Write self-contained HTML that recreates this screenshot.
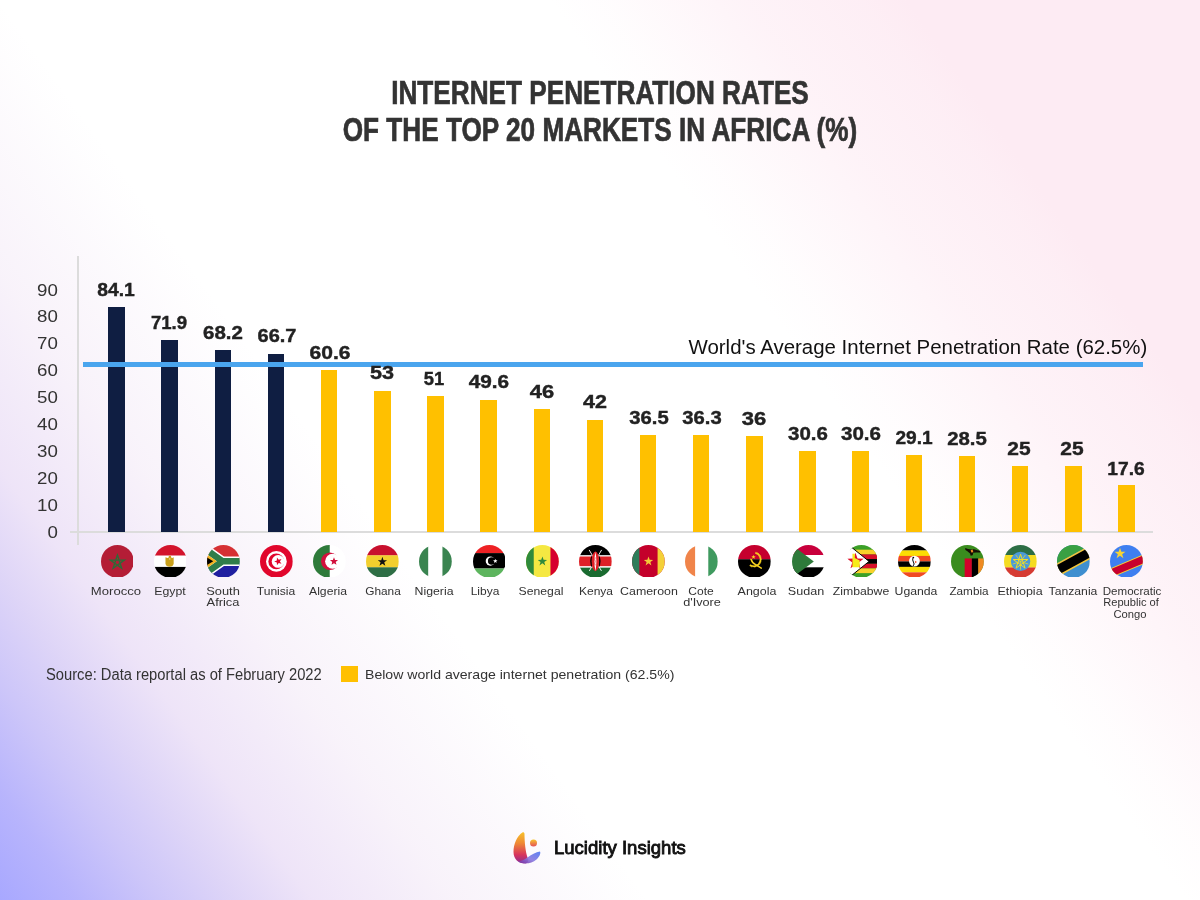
<!DOCTYPE html>
<html><head><meta charset="utf-8"><style>
html,body{margin:0;padding:0;}
body{width:1200px;height:900px;position:relative;overflow:hidden;font-family:"Liberation Sans",sans-serif;
background:
 linear-gradient(54.16deg, rgba(168,168,255,1) 0.00%, rgba(172,168,252,0.86) 4.22%, rgba(178,168,246,0.66) 8.43%, rgba(186,167,239,0.48) 12.65%, rgba(200,168,232,0.31) 16.86%, rgba(208,168,222,0.14) 24.59%, rgba(210,168,220,0.02) 33.37%, rgba(210,168,220,0) 35.13%),
 linear-gradient(234.75deg, rgba(253,235,243,1) 0.00%, rgba(253,235,243,1) 15.93%, rgba(253,235,243,0.85) 18.41%, rgba(253,235,243,0.6) 24.79%, rgba(253,235,243,0.12) 32.58%, rgba(253,235,243,0) 35.41%),
 #fff;}
.abs{position:absolute;}
.title{position:absolute;left:0;width:1200px;text-align:center;color:#333;font-weight:bold;font-size:32.5px;line-height:36px;white-space:nowrap;transform:scaleX(0.805);transform-origin:600px 0;-webkit-text-stroke:0.7px #333;}
.bar{position:absolute;width:16.5px;}
.val{position:absolute;width:80px;text-align:center;font-weight:bold;font-size:18px;line-height:27px;color:#222;-webkit-text-stroke:0.4px #222;}
.yl{position:absolute;left:0;width:57.8px;text-align:right;font-size:17px;line-height:26px;color:#333;transform:scaleX(1.1);transform-origin:57.8px 0;}
.flag{position:absolute;}
.nm{position:absolute;width:100px;text-align:center;font-size:11.5px;line-height:11px;color:#333;white-space:nowrap;}
</style></head><body>
<div id="wrap" style="position:absolute;left:0;top:0;width:1200px;height:900px;will-change:transform">
<div class="title" style="top:74.5px">INTERNET PENETRATION RATES</div>
<div class="title" style="top:111.5px">OF THE TOP 20 MARKETS IN AFRICA (%)</div>
<div class="abs" style="left:77.3px;top:256px;width:1.6px;height:289px;background:#dcdcdc"></div>
<div class="abs" style="left:70px;top:531.4px;width:1083px;height:1.6px;background:#dcdcdc"></div>
<div class="yl" style="top:519.60px">0</div><div class="yl" style="top:492.70px">10</div><div class="yl" style="top:465.80px">20</div><div class="yl" style="top:438.90px">30</div><div class="yl" style="top:412.00px">40</div><div class="yl" style="top:385.10px">50</div><div class="yl" style="top:358.20px">60</div><div class="yl" style="top:331.30px">70</div><div class="yl" style="top:304.40px">80</div><div class="yl" style="top:277.50px">90</div>
<div class="bar" style="left:108.30px;top:307.43px;height:224.57px;background:#0f1e42"></div><div class="bar" style="left:161.45px;top:340.07px;height:191.93px;background:#0f1e42"></div><div class="bar" style="left:214.60px;top:349.97px;height:182.03px;background:#0f1e42"></div><div class="bar" style="left:267.75px;top:353.98px;height:178.02px;background:#0f1e42"></div><div class="bar" style="left:320.90px;top:370.30px;height:161.70px;background:#ffc000"></div><div class="bar" style="left:374.05px;top:390.63px;height:141.37px;background:#ffc000"></div><div class="bar" style="left:427.20px;top:395.98px;height:136.02px;background:#ffc000"></div><div class="bar" style="left:480.35px;top:399.73px;height:132.27px;background:#ffc000"></div><div class="bar" style="left:533.50px;top:409.36px;height:122.64px;background:#ffc000"></div><div class="bar" style="left:586.65px;top:420.06px;height:111.94px;background:#ffc000"></div><div class="bar" style="left:639.80px;top:434.78px;height:97.22px;background:#ffc000"></div><div class="bar" style="left:692.95px;top:435.31px;height:96.69px;background:#ffc000"></div><div class="bar" style="left:746.10px;top:436.12px;height:95.88px;background:#ffc000"></div><div class="bar" style="left:799.25px;top:450.56px;height:81.44px;background:#ffc000"></div><div class="bar" style="left:852.40px;top:450.56px;height:81.44px;background:#ffc000"></div><div class="bar" style="left:905.55px;top:454.58px;height:77.42px;background:#ffc000"></div><div class="bar" style="left:958.70px;top:456.18px;height:75.82px;background:#ffc000"></div><div class="bar" style="left:1011.85px;top:465.54px;height:66.46px;background:#ffc000"></div><div class="bar" style="left:1065.00px;top:465.54px;height:66.46px;background:#ffc000"></div><div class="bar" style="left:1118.15px;top:485.34px;height:46.66px;background:#ffc000"></div>
<div class="abs" style="left:83px;top:362px;width:1060px;height:4.8px;background:#4aa5ee"></div>
<div class="abs" style="left:688.5px;top:335px;font-size:20.45px;line-height:24px;color:#111;white-space:nowrap">World's Average Internet Penetration Rate (62.5%)</div>
<div class="val" style="left:76.20px;top:276.97px;transform:scaleX(1.0723)">84.1</div><div class="val" style="left:129.35px;top:309.69px;transform:scaleX(1.0312)">71.9</div><div class="val" style="left:183.30px;top:319.64px;transform:scaleX(1.1366)">68.2</div><div class="val" style="left:237.00px;top:323.38px;transform:scaleX(1.1100)">66.7</div><div class="val" style="left:289.65px;top:339.79px;transform:scaleX(1.1688)">60.6</div><div class="val" style="left:342.10px;top:360.33px;transform:scaleX(1.1988)">53</div><div class="val" style="left:394.30px;top:366.21px;transform:scaleX(1.0201)">51</div><div class="val" style="left:448.90px;top:369.33px;transform:scaleX(1.1511)">49.6</div><div class="val" style="left:501.75px;top:379.36px;transform:scaleX(1.2155)">46</div><div class="val" style="left:554.50px;top:389.47px;transform:scaleX(1.1944)">42</div><div class="val" style="left:608.90px;top:404.77px;transform:scaleX(1.1244)">36.5</div><div class="val" style="left:661.75px;top:405.35px;transform:scaleX(1.1244)">36.3</div><div class="val" style="left:713.75px;top:405.76px;transform:scaleX(1.2210)">36</div><div class="val" style="left:767.75px;top:420.99px;transform:scaleX(1.1366)">30.6</div><div class="val" style="left:821.10px;top:420.99px;transform:scaleX(1.1422)">30.6</div><div class="val" style="left:873.95px;top:425.22px;transform:scaleX(1.0601)">29.1</div><div class="val" style="left:927.00px;top:425.94px;transform:scaleX(1.1300)">28.5</div><div class="val" style="left:978.80px;top:436.05px;transform:scaleX(1.1633)">25</div><div class="val" style="left:1032.25px;top:436.05px;transform:scaleX(1.1633)">25</div><div class="val" style="left:1086.10px;top:455.76px;transform:scaleX(1.0678)">17.6</div>
<svg class="flag" style="left:100.55px;top:544.6px" viewBox="0 0 100 100" width="32.8" height="32.8"><defs><clipPath id="c0"><circle cx="50" cy="50" r="50"/></clipPath></defs><g clip-path="url(#c0)"><rect width="100" height="100" fill="#b41d36"/>
<polygon points="50.00,30.50 63.23,71.20 28.60,46.05 71.40,46.05 36.77,71.20" fill="none" stroke="#2b6d37" stroke-width="4" stroke-linejoin="miter" stroke-miterlimit="10"/></g></svg><svg class="flag" style="left:153.70px;top:544.6px" viewBox="0 0 100 100" width="32.8" height="32.8"><defs><clipPath id="c1"><circle cx="50" cy="50" r="50"/></clipPath></defs><g clip-path="url(#c1)"><rect width="100" height="33" fill="#d3132c"/><rect y="32.3" width="100" height="35" fill="#fff"/><rect y="66.8" width="100" height="34" fill="#000"/>
<path d="M35 37 L41 40 L45 38 L45 33 L52 33 L52 38 L56 40 L60 37 L60 57 Q58 66 47.5 66 Q37 66 35 57 Z" fill="#c9a01c"/><rect x="46" y="40" width="4" height="5" fill="#e8d27a"/></g></svg><svg class="flag" style="left:206.85px;top:544.6px" viewBox="0 0 100 100" width="32.8" height="32.8"><defs><clipPath id="c2"><circle cx="50" cy="50" r="50"/></clipPath></defs><g clip-path="url(#c2)"><rect width="100" height="50" fill="#d63034"/><rect y="50" width="100" height="50" fill="#1f1fa0"/>
<path d="M-20 1.5 L47 49.5 L-20 97.5 M47 49.5 L110 49.5" fill="none" stroke="#fff" stroke-width="29"/>
<path d="M-20 1.5 L47 49.5 L-20 97.5 M47 49.5 L110 49.5" fill="none" stroke="#2f7d4a" stroke-width="20"/>
<polygon points="-2,27.5 30,49.5 -2,71.5" fill="#f3b321"/><polygon points="-2,36.5 19,49.5 -2,62.5" fill="#000"/></g></svg><svg class="flag" style="left:260.00px;top:544.6px" viewBox="0 0 100 100" width="32.8" height="32.8"><defs><clipPath id="c3"><circle cx="50" cy="50" r="50"/></clipPath></defs><g clip-path="url(#c3)"><rect width="100" height="100" fill="#e1062c"/><circle cx="50" cy="50" r="31.6" fill="#fff"/>
<circle cx="49.5" cy="50" r="24" fill="#e1062c"/><circle cx="55.3" cy="50" r="19.5" fill="#fff"/>
<polygon points="43.10,50.00 51.29,46.94 51.67,38.21 57.11,45.05 65.53,42.71 60.70,50.00 65.53,57.29 57.11,54.95 51.67,61.79 51.29,53.06" fill="#e1062c"/></g></svg><svg class="flag" style="left:313.15px;top:544.6px" viewBox="0 0 100 100" width="32.8" height="32.8"><defs><clipPath id="c4"><circle cx="50" cy="50" r="50"/></clipPath></defs><g clip-path="url(#c4)"><rect width="100" height="100" fill="#fff"/><rect width="51" height="100" fill="#2e7a3a"/>
<circle cx="51.5" cy="49.5" r="27" fill="#d2103c"/><circle cx="60" cy="49.5" r="23" fill="#fff"/><path d="M51 29 L51 70 L40 70 L40 29 Z" fill="#2e7a3a" opacity="0"/>
<polygon points="64.00,37.00 67.23,45.55 76.36,45.98 69.23,51.70 71.64,60.52 64.00,55.50 56.36,60.52 58.77,51.70 51.64,45.98 60.77,45.55" fill="#d2103c"/></g></svg><svg class="flag" style="left:366.30px;top:544.6px" viewBox="0 0 100 100" width="32.8" height="32.8"><defs><clipPath id="c5"><circle cx="50" cy="50" r="50"/></clipPath></defs><g clip-path="url(#c5)"><rect width="100" height="32" fill="#c8102e"/><rect y="31.5" width="100" height="37" fill="#f2cf2e"/><rect y="68" width="100" height="32" fill="#2e6e45"/>
<polygon points="50.00,36.00 53.53,46.15 64.27,46.36 55.71,52.85 58.82,63.14 50.00,57.00 41.18,63.14 44.29,52.85 35.73,46.36 46.47,46.15" fill="#111"/></g></svg><svg class="flag" style="left:419.45px;top:544.6px" viewBox="0 0 100 100" width="32.8" height="32.8"><defs><clipPath id="c6"><circle cx="50" cy="50" r="50"/></clipPath></defs><g clip-path="url(#c6)"><rect width="100" height="100" fill="#fff"/><rect width="28" height="100" fill="#3a8450"/><rect x="71.5" width="29" height="100" fill="#3a8450"/></g></svg><svg class="flag" style="left:472.60px;top:544.6px" viewBox="0 0 100 100" width="32.8" height="32.8"><defs><clipPath id="c7"><circle cx="50" cy="50" r="50"/></clipPath></defs><g clip-path="url(#c7)"><rect width="100" height="25" fill="#ee2124"/><rect y="24.7" width="100" height="47" fill="#000"/><rect y="71.7" width="100" height="29" fill="#5db55e"/>
<circle cx="52.7" cy="49" r="14" fill="#fff"/><circle cx="57" cy="49" r="11.5" fill="#000"/>
<polygon points="68.00,42.00 69.76,46.57 74.66,46.84 70.85,49.93 72.11,54.66 68.00,52.00 63.89,54.66 65.15,49.93 61.34,46.84 66.24,46.57" fill="#fff"/></g></svg><svg class="flag" style="left:525.75px;top:544.6px" viewBox="0 0 100 100" width="32.8" height="32.8"><defs><clipPath id="c8"><circle cx="50" cy="50" r="50"/></clipPath></defs><g clip-path="url(#c8)"><rect width="100" height="100" fill="#f5e842"/><rect width="23.6" height="100" fill="#2f8a3c"/><rect x="74.6" width="26" height="100" fill="#d6002e"/>
<polygon points="50.00,35.00 53.53,45.15 64.27,45.36 55.71,51.85 58.82,62.14 50.00,56.00 41.18,62.14 44.29,51.85 35.73,45.36 46.47,45.15" fill="#2f8a3c"/></g></svg><svg class="flag" style="left:578.90px;top:544.6px" viewBox="0 0 100 100" width="32.8" height="32.8"><defs><clipPath id="c9"><circle cx="50" cy="50" r="50"/></clipPath></defs><g clip-path="url(#c9)"><rect width="100" height="100" fill="#fff"/><rect width="100" height="31" fill="#000"/><rect y="35" width="100" height="29.5" fill="#de2127"/><rect y="69" width="100" height="31" fill="#1a6b30"/>
<path d="M31 15 L68.5 79 M69 15 L31.5 79" stroke="#fff" stroke-width="2.8"/>
<path d="M40 30 Q28 50 40 70 Z M60 30 Q72 50 60 70 Z" fill="#000"/>
<ellipse cx="50" cy="50" rx="11.5" ry="30" fill="#de2127"/>
<path d="M50 21 Q44 50 50 79 Q56 50 50 21 Z" fill="#fff"/><path d="M50 38 L48 44 L50 50 L48 56 L50 62" stroke="#de2127" stroke-width="1.6" fill="none"/></g></svg><svg class="flag" style="left:632.05px;top:544.6px" viewBox="0 0 100 100" width="32.8" height="32.8"><defs><clipPath id="c10"><circle cx="50" cy="50" r="50"/></clipPath></defs><g clip-path="url(#c10)"><rect width="100" height="100" fill="#c4002b"/><rect width="22.4" height="100" fill="#2d7d5a"/><rect x="78" width="22" height="100" fill="#f4d038"/>
<polygon points="50.30,35.00 53.83,45.15 64.57,45.36 56.01,51.85 59.12,62.14 50.30,56.00 41.48,62.14 44.59,51.85 36.03,45.36 46.77,45.15" fill="#f4c838"/></g></svg><svg class="flag" style="left:685.20px;top:544.6px" viewBox="0 0 100 100" width="32.8" height="32.8"><defs><clipPath id="c11"><circle cx="50" cy="50" r="50"/></clipPath></defs><g clip-path="url(#c11)"><rect width="100" height="100" fill="#fff"/><rect width="30.8" height="100" fill="#f0844a"/><rect x="71" width="29" height="100" fill="#3f9a5f"/></g></svg><svg class="flag" style="left:738.35px;top:544.6px" viewBox="0 0 100 100" width="32.8" height="32.8"><defs><clipPath id="c12"><circle cx="50" cy="50" r="50"/></clipPath></defs><g clip-path="url(#c12)"><rect width="100" height="44" fill="#c5002e"/><rect y="43.5" width="100" height="57" fill="#000"/>
<path d="M53.4 23.7 A21 21 0 1 1 35.95 61.2" fill="none" stroke="#f6d21e" stroke-width="6.5" stroke-dasharray="2.2 1.6"/>
<path d="M53.4 23.7 A21 21 0 1 1 35.95 61.2" fill="none" stroke="#f6d21e" stroke-width="4"/>
<path d="M39.7 43.3 Q44 56 54 60 L71 70.5" fill="none" stroke="#f6d21e" stroke-width="4.5" stroke-linecap="round"/>
<polygon points="47.30,29.60 49.06,34.17 53.96,34.44 50.15,37.53 51.41,42.26 47.30,39.60 43.19,42.26 44.45,37.53 40.64,34.44 45.54,34.17" fill="#f6d21e"/></g></svg><svg class="flag" style="left:791.50px;top:544.6px" viewBox="0 0 100 100" width="32.8" height="32.8"><defs><clipPath id="c13"><circle cx="50" cy="50" r="50"/></clipPath></defs><g clip-path="url(#c13)"><rect width="100" height="31" fill="#c8003c"/><rect y="30.5" width="100" height="38" fill="#fff"/><rect y="68" width="100" height="32" fill="#000"/>
<path d="M0 0 L66.5 50 L0 100 Z" fill="#2e7a3a"/></g></svg><svg class="flag" style="left:844.65px;top:544.6px" viewBox="0 0 100 100" width="32.8" height="32.8"><defs><clipPath id="c14"><circle cx="50" cy="50" r="50"/></clipPath></defs><g clip-path="url(#c14)"><rect x="15" width="90" height="100" fill="#3ca028"/><rect x="15" y="14.3" width="90" height="14.3" fill="#f8d12a"/><rect x="15" y="28.6" width="90" height="14.3" fill="#d8102a"/>
<rect x="15" y="42.9" width="90" height="14.3" fill="#000"/><rect x="15" y="57.2" width="90" height="14.3" fill="#d8102a"/><rect x="15" y="71.5" width="90" height="14.3" fill="#f8d12a"/>
<path d="M-10 -10 L22 -10 L22 8.5 L73.4 50 L22 91.5 L22 110 L-10 110 Z" fill="#fff"/>
<path d="M18 5.3 L73.4 50 L18 94.7" fill="none" stroke="#000" stroke-width="3"/><path d="M-10 0 L20 7" stroke="#fff" stroke-width="0"/>
<polygon points="32.00,24.00 38.17,41.51 56.73,41.97 41.99,53.24 47.28,71.03 32.00,60.50 16.72,71.03 22.01,53.24 7.27,41.97 25.83,41.51" fill="#e0102a"/><path d="M22.7 26.7 L30 26.7 L30 40 L44.7 47 L44.7 67.6 L22.7 67.6 Z" fill="#f6ec1a"/></g></svg><svg class="flag" style="left:897.80px;top:544.6px" viewBox="0 0 100 100" width="32.8" height="32.8"><defs><clipPath id="c15"><circle cx="50" cy="50" r="50"/></clipPath></defs><g clip-path="url(#c15)"><rect width="100" height="17" fill="#000"/><rect y="16.6" width="100" height="17" fill="#fcdc04"/><rect y="33.3" width="100" height="17" fill="#f04a23"/>
<rect y="50" width="100" height="17" fill="#000"/><rect y="66.6" width="100" height="17" fill="#fcdc04"/><rect y="83.3" width="100" height="17" fill="#f04a23"/>
<circle cx="50" cy="49" r="16.5" fill="#fff"/><path d="M46 38 Q43 46 47 52 Q52 58 46 64" stroke="#000" stroke-width="3" fill="none"/><path d="M52 48 L58 52 L52 56 Z" fill="#f04a23"/><circle cx="47" cy="38" r="2.5" fill="#000"/></g></svg><svg class="flag" style="left:950.95px;top:544.6px" viewBox="0 0 100 100" width="32.8" height="32.8"><defs><clipPath id="c16"><circle cx="50" cy="50" r="50"/></clipPath></defs><g clip-path="url(#c16)"><rect width="100" height="100" fill="#3a8c1e"/><rect x="41.7" y="41" width="22" height="60" fill="#d4002a"/><rect x="63.6" y="41" width="19.5" height="60" fill="#000"/><rect x="83" y="41" width="20" height="60" fill="#ef8a22"/>
<path d="M43 9 L52 12 L62 14 L70 13 L80 16 L91 18 L88 23 L76 23 L68 24 L66 31 L60 33 L58 26 L50 19 L44 15 Z" fill="#140c04"/><path d="M60 16 L66 14 L68 22 L62 23 Z" fill="#ef8a22"/></g></svg><svg class="flag" style="left:1004.10px;top:544.6px" viewBox="0 0 100 100" width="32.8" height="32.8"><defs><clipPath id="c17"><circle cx="50" cy="50" r="50"/></clipPath></defs><g clip-path="url(#c17)"><rect width="100" height="31" fill="#2d6e45"/><rect y="30.5" width="100" height="38.5" fill="#f5dc22"/><rect y="68.5" width="100" height="32" fill="#d63b33"/>
<circle cx="50.5" cy="50" r="29.5" fill="#4a9ad8"/>
<polygon points="50.50,28.00 64.31,70.51 28.15,44.24 72.85,44.24 36.69,70.51" fill="none" stroke="#f5dc22" stroke-width="3"/>
<path d="M50.5 50.5 L65.19 30.27 M50.5 50.5 L74.28 58.23 M50.5 50.5 L50.50 75.50 M50.5 50.5 L26.72 58.23 M50.5 50.5 L35.81 30.27" stroke="#f5dc22" stroke-width="2.2"/></g></svg><svg class="flag" style="left:1057.25px;top:544.6px" viewBox="0 0 100 100" width="32.8" height="32.8"><defs><clipPath id="c18"><circle cx="50" cy="50" r="50"/></clipPath></defs><g clip-path="url(#c18)"><rect width="100" height="100" fill="#3f8fd0"/><path d="M-10 -10 L110 -10 L110 -4.75 L-10 61.25 Z" fill="#3aa043"/>
<path d="M-10 61.25 L110 -4.75 L110 38.25 L-10 104.25 Z" fill="#f3c53a"/><path d="M-10 66.75 L110 0.75 L110 32.75 L-10 98.75 Z" fill="#000"/></g></svg><svg class="flag" style="left:1110.40px;top:544.6px" viewBox="0 0 100 100" width="32.8" height="32.8"><defs><clipPath id="c19"><circle cx="50" cy="50" r="50"/></clipPath></defs><g clip-path="url(#c19)"><rect width="100" height="100" fill="#3f7ff0"/>
<path d="M-10 75.7 L110 25.3 L110 55.3 L-10 105.7 Z" fill="#f6d335"/><path d="M-10 78.7 L110 28.3 L110 52.3 L-10 102.7 Z" fill="#c8002e"/>
<polygon points="30.50,8.40 34.61,20.34 47.24,20.56 37.16,28.16 40.85,40.24 30.50,33.00 20.15,40.24 23.84,28.16 13.76,20.56 26.39,20.34" fill="#f6d335"/></g></svg>
<div class="nm" style="left:65.55px;top:585.50px;font-size:11.5px;transform:scaleX(1.1397)">Morocco</div><div class="nm" style="left:120.20px;top:585.50px;font-size:11.5px;transform:scaleX(1.0714)">Egypt</div><div class="nm" style="left:172.97px;top:585.50px;font-size:11.5px;transform:scaleX(1.1187)">South</div><div class="nm" style="left:172.97px;top:596.50px;font-size:11.5px;transform:scaleX(1.1187)">Africa</div><div class="nm" style="left:226.25px;top:585.50px;font-size:11.5px;transform:scaleX(1.0537)">Tunisia</div><div class="nm" style="left:277.90px;top:585.50px;font-size:11.5px;transform:scaleX(1.0586)">Algeria</div><div class="nm" style="left:332.55px;top:585.50px;font-size:11.5px;transform:scaleX(1.0299)">Ghana</div><div class="nm" style="left:384.07px;top:585.50px;font-size:11.5px;transform:scaleX(1.069)">Nigeria</div><div class="nm" style="left:435.10px;top:585.50px;font-size:11.5px;transform:scaleX(1.0399)">Libya</div><div class="nm" style="left:491.13px;top:585.50px;font-size:11.5px;transform:scaleX(1.0609)">Senegal</div><div class="nm" style="left:545.52px;top:585.50px;font-size:11.5px;transform:scaleX(1.0439)">Kenya</div><div class="nm" style="left:598.75px;top:585.50px;font-size:11.5px;transform:scaleX(1.077)">Cameroon</div><div class="nm" style="left:650.95px;top:585.50px;font-size:11.5px;transform:scaleX(1.0452)">Cote</div><div class="nm" style="left:651.82px;top:596.50px;font-size:11.5px;transform:scaleX(1.1025)">d'Ivore</div><div class="nm" style="left:706.60px;top:585.50px;font-size:11.5px;transform:scaleX(1.0833)">Angola</div><div class="nm" style="left:756.25px;top:585.50px;font-size:11.5px;transform:scaleX(1.0939)">Sudan</div><div class="nm" style="left:810.77px;top:585.50px;font-size:11.5px;transform:scaleX(1.0647)">Zimbabwe</div><div class="nm" style="left:865.68px;top:585.50px;font-size:11.5px;transform:scaleX(1.0645)">Uganda</div><div class="nm" style="left:918.65px;top:585.50px;font-size:11.5px;transform:scaleX(1.0214)">Zambia</div><div class="nm" style="left:970.10px;top:585.50px;font-size:11.5px;transform:scaleX(1.0879)">Ethiopia</div><div class="nm" style="left:1023.45px;top:585.50px;font-size:11.5px;transform:scaleX(1.0608)">Tanzania</div><div class="nm" style="left:1082.10px;top:585.50px;font-size:11px;transform:scaleX(1.0511)">Democratic</div><div class="nm" style="left:1081.10px;top:597.00px;font-size:11px;transform:scaleX(1.0111)">Republic of</div><div class="nm" style="left:1080.10px;top:608.50px;font-size:11px;transform:scaleX(1.0194)">Congo</div>
<div class="abs" style="left:46px;top:665px;font-size:16px;line-height:20px;color:#333;white-space:nowrap;transform:scaleX(0.92);transform-origin:0 0">Source: Data reportal as of February 2022</div>
<div class="abs" style="left:341px;top:666px;width:16.5px;height:16px;background:#ffc000"></div>
<div class="abs" style="left:365px;top:666px;font-size:13px;line-height:17px;color:#333;white-space:nowrap;transform:scaleX(1.084);transform-origin:0 0">Below world average internet penetration (62.5%)</div>
<svg class="abs" style="left:510px;top:830px" width="34" height="36" viewBox="0 0 34 36">
<defs><linearGradient id="lg1" x1="0" y1="0" x2="0" y2="1"><stop offset="0" stop-color="#f7c12a"/><stop offset="0.35" stop-color="#ef8a35"/><stop offset="0.72" stop-color="#d8345c"/><stop offset="1" stop-color="#8a2c96"/></linearGradient>
<linearGradient id="lg2" x1="0" y1="1" x2="1" y2="0"><stop offset="0" stop-color="#7a2c9c"/><stop offset="0.45" stop-color="#8a7ae0"/><stop offset="1" stop-color="#4f78f2"/></linearGradient>
<linearGradient id="lg3" x1="0" y1="0" x2="0" y2="1"><stop offset="0" stop-color="#f8c52c"/><stop offset="1" stop-color="#e4505a"/></linearGradient></defs>
<path d="M12.75 2.25 C7 6 3.5 14 3.5 22 C3.5 29 8.5 33.5 15 33.5 C18 33.5 19 31 17.5 27.5 C15.5 22 14.5 12 14.5 4 C14.5 2.5 13.5 2 12.75 2.25 Z" fill="url(#lg1)"/>
<path d="M8 31.5 C12 34 21 34.5 26.5 29.5 C29.5 26.5 31 23.5 30 21.5 C26 22.2 21 24.5 17.5 27.5 C14.5 30 11 31 8 31.5 Z" fill="url(#lg2)" opacity="0.92"/>
<circle cx="23.5" cy="13" r="3.5" fill="url(#lg3)"/>
</svg>
<div class="abs" style="left:553.8px;top:836px;font-size:19px;line-height:24px;color:#111;font-weight:normal;-webkit-text-stroke:0.9px #111;white-space:nowrap;transform:scaleX(0.975);transform-origin:0 0">Lucidity Insights</div>
</div>
</body></html>
